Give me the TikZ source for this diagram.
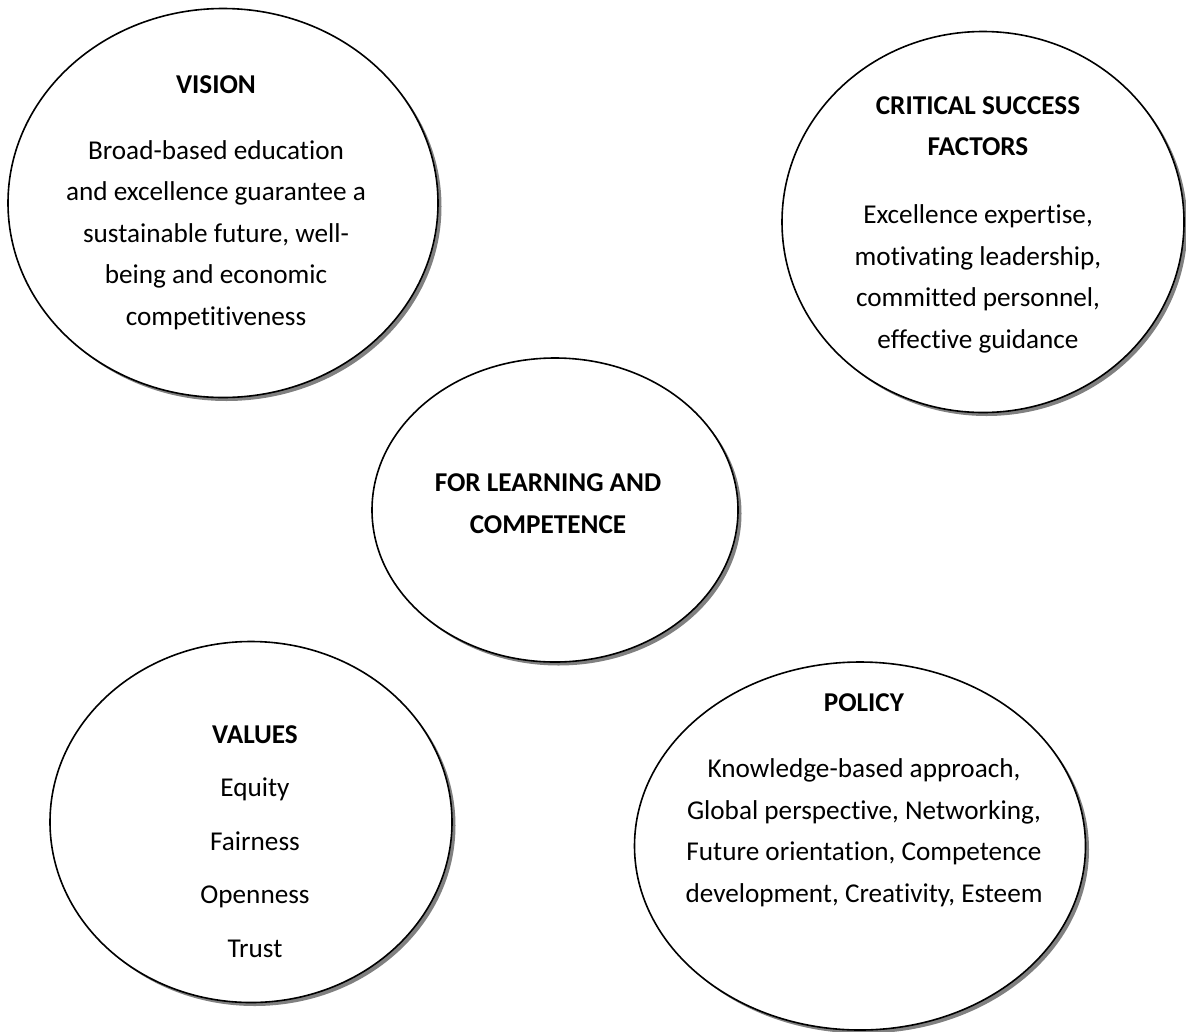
\documentclass[tikz,border=0pt]{standalone}
\usepackage{fontspec}
\setmainfont{Carlito}[Ligatures=NoCommon]
\usetikzlibrary{shapes.geometric,shadows}
\begin{document}
\begin{tikzpicture}[x=1pt,y=-1pt,
  bubble/.style={ellipse, draw=black, line width=1.6pt, fill=white, inner sep=0pt,
    drop shadow={shadow xshift=3.5pt, shadow yshift=-3.5pt, fill=black!50, opacity=1}},
  bubbletext/.style={align=center, font=\fontsize{27.2}{41.5}\selectfont, anchor=base, inner sep=0pt},
]
\useasboundingbox (0,0) rectangle (1186,1031);

% the five bubbles
\node[bubble, minimum width=430pt, minimum height=389pt] (vision) at (223,203) {};
\node[bubble, minimum width=402pt, minimum height=381pt] (csf) at (983,222) {};
\node[bubble, minimum width=366pt, minimum height=304pt] (core) at (555,510) {};
\node[bubble, minimum width=402pt, minimum height=361pt] (values) at (251,822) {};
\node[bubble, minimum width=451pt, minimum height=368pt] (policy) at (860,846) {};

% their texts, each placed by the baseline of its last line
\node[bubbletext] (visiontext) at (216,325) {\textbf{VISION}\\[24.5pt]
  Broad-based education\\ and excellence guarantee a\\ sustainable future, well-\\
  being and economic\\ competitiveness};
\node[bubbletext] (csftext) at (978,348) {\textbf{CRITICAL SUCCESS}\\ \textbf{FACTORS}\\[26.5pt]
  Excellence expertise,\\ motivating leadership,\\ committed personnel,\\ effective guidance};
\node[bubbletext] (coretext) at (548,533) {\textbf{FOR LEARNING AND}\\ \textbf{COMPETENCE}};
\node[bubbletext, font=\fontsize{27.2}{53.5}\selectfont] (valuestext) at (255,957) {\textbf{VALUES}\\
  Equity\\ Fairness\\ Openness\\ Trust};
\node[bubbletext] (policytext) at (864,902) {\textbf{POLICY}\\[24.5pt]
  Knowledge-based approach,\\ Global perspective, Networking,\\ Future orientation, Competence\\
  development, Creativity, Esteem};
\end{tikzpicture}
\end{document}
